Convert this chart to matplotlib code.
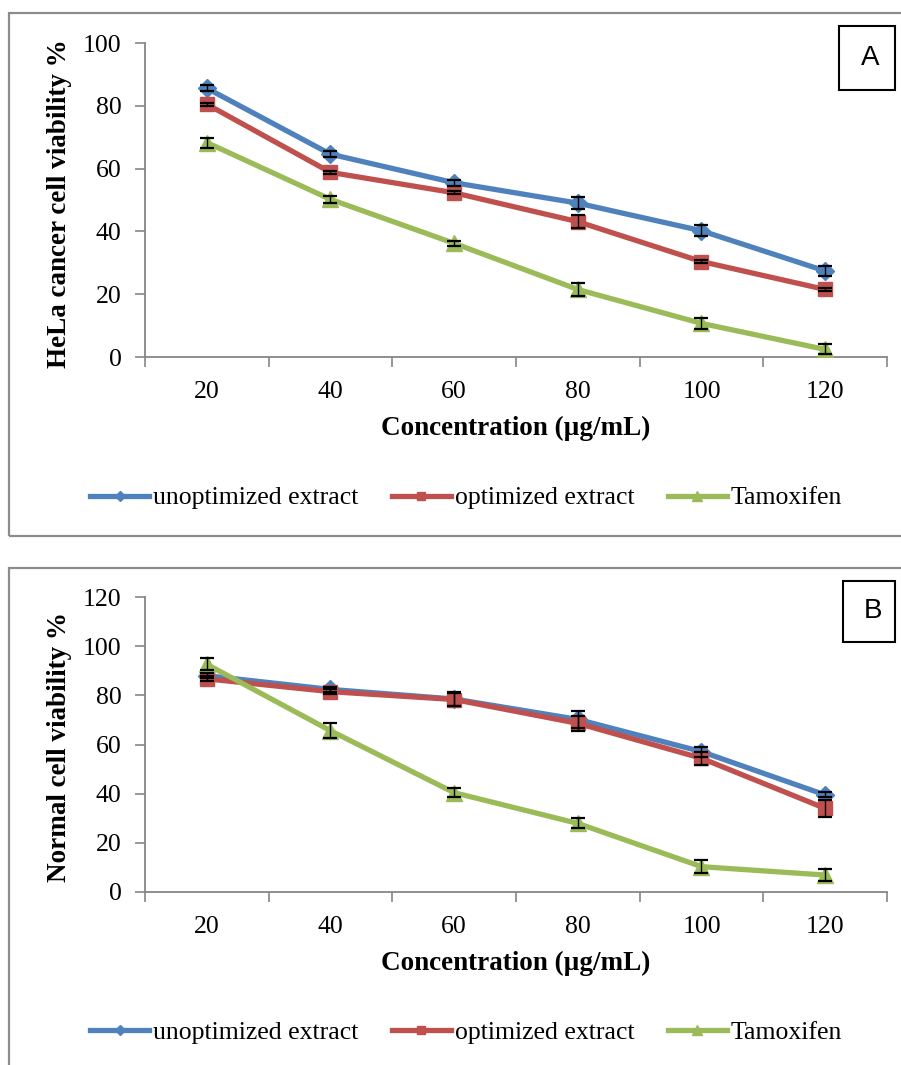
import matplotlib
matplotlib.use("Agg")
import matplotlib.pyplot as plt
from matplotlib.patches import Rectangle

plt.rcParams["font.family"] = ["Liberation Serif", "DejaVu Serif"]

# concentrations (µg/mL)
CONC = ["20", "40", "60", "80", "100", "120"]
NAMES = ["unoptimized extract", "optimized extract", "Tamoxifen"]

# panel A - HeLa cancer cells
hela_unopt = [85.6, 64.6, 55.5, 49.0, 40.2, 27.4]
hela_opt = [80.5, 58.8, 52.3, 43.1, 30.4, 21.5]
hela_tam = [68.3, 50.2, 36.2, 21.5, 10.7, 2.4]
hela_unopt_err = [1.0, 1.0, 1.0, 2.0, 1.7, 1.5]
hela_opt_err = [0.5, 0.5, 0.5, 2.1, 0.5, 0.5]
hela_tam_err = [1.6, 1.0, 0.8, 2.1, 1.8, 1.6]

# panel B - normal cells
norm_unopt = [88.0, 82.4, 78.5, 70.2, 57.1, 39.5]
norm_opt = [86.7, 81.5, 78.3, 68.6, 54.4, 34.0]
norm_tam = [92.6, 65.6, 40.4, 27.9, 10.3, 6.9]
norm_unopt_err = [1.0, 1.0, 2.8, 3.4, 2.0, 1.0]
norm_opt_err = [1.0, 1.0, 2.8, 3.0, 2.7, 3.4]
norm_tam_err = [2.4, 3.0, 1.8, 2.0, 2.7, 2.3]

COLORS = ["#4F81BD", "#C0504D", "#9BBB59"]
MARKERS = [("D", 9), ("s", 10), ("^", 11)]
GRAY = "#868686"

W, H = 901, 1065
fig = plt.figure(figsize=(W / 100, H / 100), dpi=100)


def px_rect(x0, y0, x1, y1):
    # pixel box (top-left origin) -> figure fraction rect
    return [x0 / W, 1 - y1 / H, (x1 - x0) / W, (y1 - y0) / H]


def panel(rect, series, errs, ymax, ylabel, letter, letter_box, legend_y, xlab_y):
    ax = fig.add_axes(rect)
    xs = list(range(len(CONC)))
    lines = []
    for vals, col, (mk, ms), name in zip(series, COLORS, MARKERS, NAMES):
        ln, = ax.plot(xs, vals, color=col, lw=3.8, marker=mk, markersize=ms,
                      markeredgecolor=col, label=name, zorder=3)
        lines.append(ln)
    for vals, err in zip(series, errs):
        ax.errorbar(xs, vals, yerr=err, fmt="none", ecolor="black",
                    elinewidth=1.0, capsize=5, capthick=1.6, zorder=4)

    ax.set_xlim(-0.5, len(CONC) - 0.5)
    ax.set_ylim(0, ymax)
    ax.set_yticks(range(0, ymax + 1, 20))
    ax.set_xticks(xs)
    ax.set_xticklabels(CONC)
    ax.set_xticks([i - 0.5 for i in range(len(CONC) + 1)], minor=True)
    ax.tick_params(axis="x", which="major", length=0, pad=17, labelsize=18.5)
    ax.tick_params(axis="x", which="minor", length=7, width=1.2, color=GRAY,
                   direction="out")
    ax.tick_params(axis="y", length=7, width=1.2, color=GRAY, pad=10,
                   labelsize=18.5)
    for s in ("top", "right"):
        ax.spines[s].set_visible(False)
    for s in ("left", "bottom"):
        ax.spines[s].set_color(GRAY)
        ax.spines[s].set_linewidth(1.3)

    ax.set_xlabel("Concentration (µg/mL)", fontsize=19.5, fontweight="bold")
    ax.xaxis.set_label_coords(0.5, xlab_y)
    ax.xaxis.label.set_va("center")
    ax.set_ylabel(ylabel, fontsize=19.5, fontweight="bold")
    ax.yaxis.set_label_coords(-0.1146, 0.49)
    ax.yaxis.label.set_va("center")

    fig.legend(handles=lines, loc="center", ncol=3, frameon=False,
               bbox_to_anchor=(466 / W, 1 - legend_y / H), fontsize=18.5,
               handlelength=2.3, handletextpad=0.15, columnspacing=1.3,
               markerscale=0.6)

    bx = px_rect(*letter_box)
    fig.patches.append(Rectangle((bx[0], bx[1]), bx[2], bx[3],
                                 transform=fig.transFigure, fill=False,
                                 edgecolor="black", lw=1.5))
    fig.text(bx[0] + bx[2] / 2 + 0.004, bx[1] + bx[3] / 2, letter,
             ha="center", va="center", fontsize=20, family="Liberation Sans")
    return ax


# outer chart frames
for y0, y1 in ((13, 536), (568, 1090)):
    r = px_rect(9, y0, 920, y1)
    fig.patches.append(Rectangle((r[0], r[1]), r[2], r[3],
                                 transform=fig.transFigure, fill=False,
                                 edgecolor="#8c8c8c", lw=1.6))

panel(px_rect(145, 43, 887, 357),
      [hela_unopt, hela_opt, hela_tam],
      [hela_unopt_err, hela_opt_err, hela_tam_err],
      100, "HeLa cancer cell viability %", "A", (839, 26, 895, 90), 498, -0.226)

panel(px_rect(145, 597, 887, 892),
      [norm_unopt, norm_opt, norm_tam],
      [norm_unopt_err, norm_opt_err, norm_tam_err],
      120, "Normal cell viability %", "B", (843, 581, 895, 642), 1033, -0.241)

fig.savefig("out.png", dpi=100)
